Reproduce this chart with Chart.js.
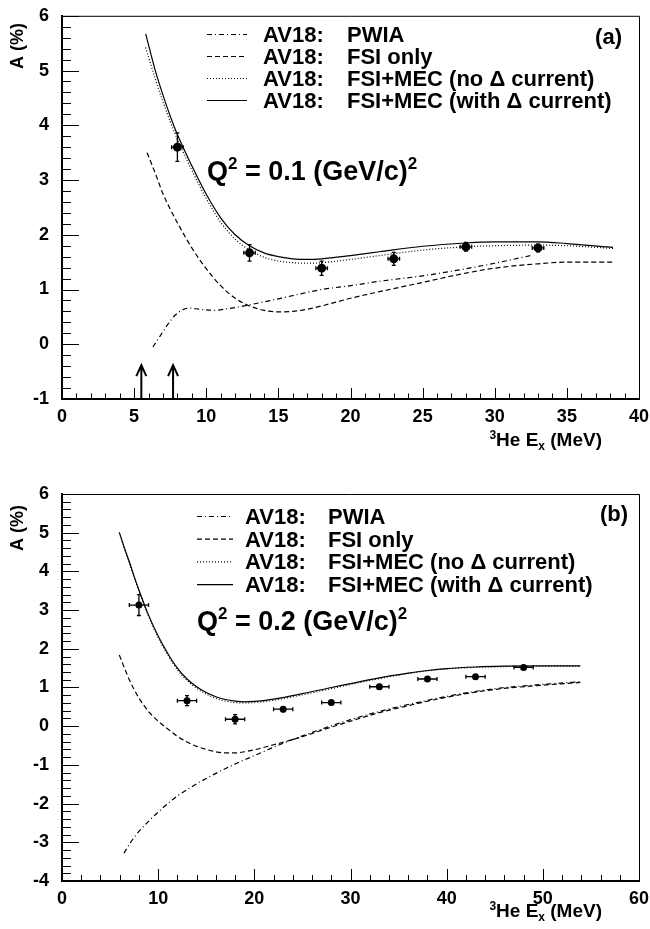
<!DOCTYPE html>
<html>
<head>
<meta charset="utf-8">
<script src="https://cdn.jsdelivr.net/npm/chart.js@4.4.1/dist/chart.umd.min.js"></script>
<style>
  body { margin: 0; background: #fff; }
  canvas { display: block; }
</style>
</head>
<body>
<canvas id="panelA" width="650" height="450"></canvas>
<canvas id="panelB" width="650" height="479"></canvas>
<script>
// ---- panel (a): Q^2 = 0.1 (GeV/c)^2 ----
const aXTicks = [0, 5, 10, 15, 20, 25, 30, 35, 40];
const aYTicks = [-1, 0, 1, 2, 3, 4, 5, 6];
const aTheoryE = [5.8, 6.5, 7, 7.5, 8, 9, 10, 11, 12, 13, 14, 15, 16, 17, 18, 20, 22, 25, 28, 30, 33, 35, 38.2];
const aWithDelta = [5.67, 4.97, 4.55, 4.17, 3.83, 3.26, 2.74, 2.31, 2.0, 1.8, 1.67, 1.6, 1.56, 1.55, 1.56, 1.62, 1.69, 1.79, 1.85, 1.87, 1.87, 1.84, 1.77];
const aNoDelta = [5.42, 4.82, 4.43, 4.07, 3.74, 3.18, 2.66, 2.23, 1.92, 1.72, 1.59, 1.52, 1.49, 1.48, 1.49, 1.55, 1.62, 1.72, 1.78, 1.8, 1.81, 1.8, 1.75];
const aFsiE = [5.9, 6.5, 7, 7.5, 8, 9, 10, 11, 12, 13, 14, 15, 16, 17, 18, 20, 22, 25, 28, 30, 33, 35, 38.2];
const aFsiOnly = [3.5, 3.1, 2.75, 2.47, 2.22, 1.76, 1.38, 1.07, 0.84, 0.7, 0.62, 0.59, 0.6, 0.64, 0.7, 0.84, 0.96, 1.13, 1.3, 1.39, 1.47, 1.5, 1.5];
const aPwiaE = [6.3, 6.8, 7.3, 7.8, 8.3, 8.8, 9.5, 10.5, 11.5, 12.8, 15, 18, 20, 22, 25, 28, 30, 32.5];
const aPwia = [-0.05, 0.15, 0.35, 0.52, 0.62, 0.66, 0.64, 0.62, 0.65, 0.71, 0.83, 1.0, 1.07, 1.15, 1.25, 1.38, 1.48, 1.62];
const aDataE = [8, 13, 18, 23, 28, 33];
const aDataA = [3.6, 1.67, 1.39, 1.56, 1.78, 1.76];
const aDataErrA = [0.26, 0.15, 0.13, 0.12, 0.08, 0.07];
const aDataErrE = [0.4, 0.4, 0.4, 0.4, 0.4, 0.4];
const aArrowE = [5.5, 7.7];
const aArrowTip = -0.38;

// ---- panel (b): Q^2 = 0.2 (GeV/c)^2 ----
const bXTicks = [0, 10, 20, 30, 40, 50, 60];
const bYTicks = [-4, -3, -2, -1, 0, 1, 2, 3, 4, 5, 6];
const bTheoryE = [5.96, 6.5, 7, 7.5, 8, 9, 10, 11, 12, 13, 14, 15, 16, 17, 18, 19, 20, 22, 25, 28, 30, 33, 36, 38, 40, 43, 46, 50, 53.9];
const bWithDelta = [5.01, 4.6, 4.25, 3.87, 3.52, 2.87, 2.33, 1.88, 1.5, 1.22, 1.02, 0.87, 0.76, 0.69, 0.65, 0.63, 0.64, 0.7, 0.84, 1.0, 1.1, 1.25, 1.37, 1.44, 1.49, 1.53, 1.55, 1.56, 1.56];
const bNoDelta = [5.0, 4.58, 4.22, 3.84, 3.49, 2.84, 2.29, 1.84, 1.46, 1.18, 0.98, 0.83, 0.72, 0.65, 0.61, 0.6, 0.61, 0.67, 0.81, 0.97, 1.08, 1.23, 1.36, 1.43, 1.48, 1.52, 1.54, 1.55, 1.55];
const bFsiE = [5.96, 6.5, 7, 7.5, 8, 9, 10, 11, 12, 13, 14, 15, 16, 17, 18, 19, 20, 22, 25, 27.3, 30, 33, 36, 40, 44.7, 50, 53.9];
const bFsiOnly = [1.84, 1.5, 1.2, 0.95, 0.73, 0.38, 0.13, -0.07, -0.26, -0.41, -0.52, -0.6, -0.66, -0.69, -0.69, -0.66, -0.61, -0.48, -0.27, -0.08, 0.13, 0.35, 0.53, 0.75, 0.94, 1.06, 1.13];
const bPwiaE = [6.45, 7, 8, 9, 10, 11, 12, 13, 15, 17.8, 20, 23, 25, 27.3, 30, 33, 36, 40, 44.7, 50, 53.9];
const bPwia = [-3.28, -3.05, -2.72, -2.46, -2.22, -2.0, -1.8, -1.64, -1.35, -1.0, -0.76, -0.44, -0.25, -0.05, 0.17, 0.38, 0.56, 0.77, 0.96, 1.08, 1.15];
const bDataE = [8, 13, 18, 23, 28, 33, 38, 43, 48];
const bDataA = [3.13, 0.66, 0.18, 0.44, 0.61, 1.02, 1.22, 1.28, 1.52];
const bDataErrA = [0.27, 0.13, 0.12, 0.06, 0.05, 0.06, 0.05, 0.05, 0.05];
const bDataErrE = [1.0, 1.0, 1.0, 1.0, 1.0, 1.0, 1.0, 1.0, 1.0];

const legendLabels = ['PWIA', 'FSI only', 'FSI+MEC (no \u0394 current)', 'FSI+MEC (with \u0394 current)'];
const legendDashes = [[5, 3, 1, 3], [5, 3], [1, 2], []];

const FONT = '"Liberation Sans", Arial, Helvetica, sans-serif';
const pts = (xs, ys) => xs.map((x, i) => ({ x, y: ys[i] }));

function curve(xs, ys, dash) {
  return {
    data: pts(xs, ys),
    showLine: true,
    pointRadius: 0,
    borderColor: '#000',
    borderWidth: 1.2,
    borderDash: dash,
    cubicInterpolationMode: 'monotone',
    fill: false,
  };
}

// draws text pieces left to right, [text, size, raise]
function drawPieces(ctx, pieces, x, baseline, alignRight) {
  let w = 0;
  pieces.forEach(([t, s]) => { ctx.font = 'bold ' + s + 'px ' + FONT; w += ctx.measureText(t).width; });
  let cx = alignRight ? x - w : x;
  ctx.textAlign = 'left';
  ctx.textBaseline = 'alphabetic';
  pieces.forEach(([t, s, r]) => {
    ctx.font = 'bold ' + s + 'px ' + FONT;
    ctx.fillText(t, cx, baseline - r);
    cx += ctx.measureText(t).width;
  });
}

// ROOT-like decorations: error bars, inward ticks, frame, legend, labels
function rootStyle(p) {
  return {
    id: 'rootStyle',
    beforeDatasetsDraw(chart) {
      const { ctx, scales: { x, y } } = chart;
      ctx.save();
      ctx.strokeStyle = '#000';
      ctx.lineWidth = 1.3;
      p.dataE.forEach((e, i) => {
        const px = x.getPixelForValue(e), py = y.getPixelForValue(p.dataA[i]);
        const x0 = x.getPixelForValue(e - p.dataErrE[i]), x1 = x.getPixelForValue(e + p.dataErrE[i]);
        const y0 = y.getPixelForValue(p.dataA[i] - p.dataErrA[i]), y1 = y.getPixelForValue(p.dataA[i] + p.dataErrA[i]);
        ctx.beginPath();
        ctx.moveTo(x0, py); ctx.lineTo(x1, py);
        ctx.moveTo(x0, py - 2); ctx.lineTo(x0, py + 2);
        ctx.moveTo(x1, py - 2); ctx.lineTo(x1, py + 2);
        ctx.moveTo(px, y0); ctx.lineTo(px, y1);
        ctx.moveTo(px - 2, y0); ctx.lineTo(px + 2, y0);
        ctx.moveTo(px - 2, y1); ctx.lineTo(px + 2, y1);
        ctx.stroke();
      });
      ctx.restore();
    },
    afterDraw(chart) {
      const { ctx, chartArea: a, scales: { x, y } } = chart;
      ctx.save();
      ctx.strokeStyle = '#000';

      // top and right frame
      ctx.lineWidth = 1;
      ctx.beginPath();
      ctx.moveTo(a.left, a.top + 0.5); ctx.lineTo(a.right + 0.5, a.top + 0.5);
      ctx.lineTo(a.right + 0.5, a.bottom);
      ctx.stroke();

      // inward ticks
      ctx.beginPath();
      for (let v = x.min; v <= x.max + 1e-6; v += p.xMinor) {
        const px = Math.round(x.getPixelForValue(v)) + 0.5;
        const major = Math.abs(v / p.xMajor - Math.round(v / p.xMajor)) < 1e-6;
        ctx.moveTo(px, a.bottom); ctx.lineTo(px, a.bottom - (major ? p.xTickLen : p.xTickLen / 2));
      }
      for (let v = y.min; v <= y.max + 1e-6; v += 0.2) {
        const py = Math.round(y.getPixelForValue(v)) + 0.5;
        const major = Math.abs(v - Math.round(v)) < 1e-6;
        ctx.moveTo(a.left, py); ctx.lineTo(a.left + (major ? 17 : 9), py);
      }
      ctx.stroke();

      // threshold arrows
      ctx.lineWidth = 2;
      (p.arrowE || []).forEach(e => {
        const px = x.getPixelForValue(e), tip = y.getPixelForValue(p.arrowTip);
        ctx.beginPath();
        ctx.moveTo(px, a.bottom); ctx.lineTo(px, tip);
        ctx.moveTo(px - 5, tip + 11); ctx.lineTo(px, tip); ctx.lineTo(px + 5, tip + 11);
        ctx.stroke();
      });

      // legend
      ctx.fillStyle = '#000';
      ctx.lineWidth = 1.2;
      legendLabels.forEach((lab, i) => {
        const base = p.legendTop + i * p.legendStep;
        ctx.setLineDash(legendDashes[i]);
        ctx.beginPath();
        ctx.moveTo(p.sampleX[0], base - 7.5); ctx.lineTo(p.sampleX[1], base - 7.5);
        ctx.stroke();
        ctx.setLineDash([]);
        ctx.font = 'bold 22px ' + FONT;
        ctx.textAlign = 'left';
        ctx.textBaseline = 'alphabetic';
        ctx.fillText('AV18:', p.av18X, base);
        ctx.fillText(lab, p.labelX, base);
      });

      // panel tag
      ctx.font = 'bold 22px ' + FONT;
      ctx.textAlign = 'right';
      ctx.fillText(p.tag, p.tagX, p.tagY);

      // Q^2 annotation
      drawPieces(ctx, [['Q', 27, 0], ['2', 17, 11], [' = ' + p.q2 + ' (GeV/c)', 27, 0], ['2', 17, 11]], p.q2X, p.q2Y, false);

      // x axis title
      drawPieces(ctx, [['3', 12, 7], ['He E', 19, 0], ['x', 12, -4], [' (MeV)', 19, 0]], 602, p.xTitleY, true);

      // y axis title
      ctx.save();
      ctx.translate(18, p.yTitleTop);
      ctx.rotate(-Math.PI / 2);
      ctx.font = 'bold 18px ' + FONT;
      ctx.textAlign = 'right';
      ctx.textBaseline = 'middle';
      ctx.fillText('A (%)', 0, 0);
      ctx.restore();

      ctx.restore();
    },
  };
}

function makePanel(id, p) {
  return new Chart(document.getElementById(id), {
    type: 'scatter',
    data: {
      datasets: [
        curve(p.pwiaE, p.pwia, [5, 3, 1, 3]),
        curve(p.fsiE, p.fsi, [5, 3]),
        curve(p.theoryE, p.noDelta, [1, 2]),
        curve(p.theoryE, p.withDelta, []),
        {
          data: pts(p.dataE, p.dataA),
          showLine: false,
          pointRadius: p.markerR,
          pointBackgroundColor: '#000',
          pointBorderColor: '#000',
          pointBorderWidth: 0,
        },
      ],
    },
    options: {
      responsive: false,
      animation: false,
      devicePixelRatio: 1,
      layout: { padding: { top: p.padTop, right: 11, left: 0, bottom: 0 } },
      plugins: { legend: { display: false }, tooltip: { enabled: false } },
      scales: {
        x: {
          type: 'linear',
          min: p.xTicks[0],
          max: p.xTicks[p.xTicks.length - 1],
          afterBuildTicks: s => { s.ticks = p.xTicks.map(v => ({ value: v })); },
          afterFit: s => { s.height = p.xAxisH; },
          grid: { display: false },
          border: { display: true, color: '#000', width: 2 },
          ticks: { autoSkip: false, maxRotation: 0, padding: -1, color: '#000', font: { family: FONT, size: 18, weight: 'bold' } },
        },
        y: {
          type: 'linear',
          min: p.yTicks[0],
          max: p.yTicks[p.yTicks.length - 1],
          afterBuildTicks: s => { s.ticks = p.yTicks.map(v => ({ value: v })); },
          afterFit: s => { s.width = 62; },
          grid: { display: false },
          border: { display: true, color: '#000', width: 2 },
          ticks: { autoSkip: false, padding: 5, color: '#000', font: { family: FONT, size: 18, weight: 'bold' } },
        },
      },
    },
    plugins: [rootStyle(p)],
  });
}

makePanel('panelA', {
  xTicks: aXTicks, yTicks: aYTicks,
  theoryE: aTheoryE, withDelta: aWithDelta, noDelta: aNoDelta,
  fsiE: aFsiE, fsi: aFsiOnly, pwiaE: aPwiaE, pwia: aPwia,
  dataE: aDataE, dataA: aDataA, dataErrA: aDataErrA, dataErrE: aDataErrE,
  arrowE: aArrowE, arrowTip: aArrowTip,
  markerR: 4.5, padTop: 14, xAxisH: 51, xMajor: 5, xMinor: 1, xTickLen: 11,
  legendTop: 42, legendStep: 22, sampleX: [207, 247], av18X: 263, labelX: 347,
  tag: '(a)', tagX: 622, tagY: 44,
  q2: '0.1', q2X: 207, q2Y: 180,
  xTitleY: 446, yTitleTop: 23,
});

makePanel('panelB', {
  xTicks: bXTicks, yTicks: bYTicks,
  theoryE: bTheoryE, withDelta: bWithDelta, noDelta: bNoDelta,
  fsiE: bFsiE, fsi: bFsiOnly, pwiaE: bPwiaE, pwia: bPwia,
  dataE: bDataE, dataA: bDataA, dataErrA: bDataErrA, dataErrE: bDataErrE,
  markerR: 3.5, padTop: 44, xAxisH: 48, xMajor: 10, xMinor: 2, xTickLen: 12,
  legendTop: 74, legendStep: 22.7, sampleX: [197, 233], av18X: 245, labelX: 328,
  tag: '(b)', tagX: 628, tagY: 71,
  q2: '0.2', q2X: 197, q2Y: 180,
  xTitleY: 467, yTitleTop: 55,
});
</script>
</body>
</html>
